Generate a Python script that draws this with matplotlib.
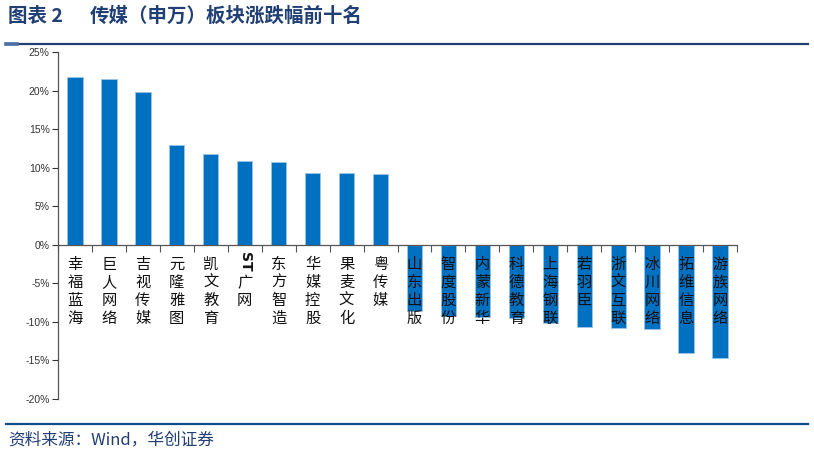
import numpy as np
import matplotlib.pyplot as plt
from matplotlib.lines import Line2D

plt.rcParams['font.family'] = ['Noto Sans CJK SC', 'DejaVu Sans']

# data (%)
names = ['幸福蓝海', '巨人网络', '吉视传媒', '元隆雅图', '凯文教育', 'ST广网', '东方智造',
         '华媒控股', '果麦文化', '粤传媒', '山东出版', '智度股份', '内蒙新华', '科德教育',
         '上海钢联', '若羽臣', '浙文互联', '冰川网络', '拓维信息', '游族网络']
changes = [21.75, 21.5, 19.8, 12.95, 11.8, 10.92, 10.79, 9.33, 9.28, 9.2,
           -8.55, -9.2, -9.37, -9.55, -10.1, -10.66, -10.84, -10.97, -14.03, -14.64]
yticks = [25, 20, 15, 10, 5, 0, -5, -10, -15, -20]

bar_color = '#0070C0'
navy = '#1F3F75'

fig = plt.figure(figsize=(8.14, 4.54), dpi=100)
ax = fig.add_axes([58 / 814, 1 - 399 / 454, (737 - 58) / 814, (399 - 52) / 454])

x = np.arange(len(names))
ax.bar(x, changes, width=0.45, color=bar_color, edgecolor='#9DC3E6', linewidth=0.6)

ax.set_xlim(-0.5, len(names) - 0.5)
ax.set_ylim(-20, 25)
ax.set_yticks(yticks)
ax.set_yticklabels([f'{v}%' for v in yticks], family='Liberation Sans', fontsize=7.5)
ax.tick_params(axis='y', direction='out', length=4, width=0.8, colors='#333333', pad=2)

for s in ['top', 'right']:
    ax.spines[s].set_visible(False)
ax.spines['bottom'].set_position(('data', 0))
for s in ['left', 'bottom']:
    ax.spines[s].set_color('#555555')
    ax.spines[s].set_linewidth(0.9)

# category boundaries as ticks, labels at the centres
ax.set_xticks(np.arange(-0.5, len(names)), minor=True)
ax.tick_params(axis='x', which='minor', direction='out', length=5, width=0.8, colors='#555555')
ax.set_xticks(x)
ax.tick_params(axis='x', which='major', length=0, pad=8)

# vertical (stacked) labels; "ST" is drawn rotated on its own
labels = ['' if n.startswith('ST') else '\n'.join(n) for n in names]
ax.set_xticklabels(labels, fontsize=11, linespacing=1.08, va='top', color='#111111')

for i, n in enumerate(names):
    if n.startswith('ST'):
        ax.annotate('ST', xy=(i, 0), xytext=(0, -12.5), textcoords='offset points',
                    ha='center', va='center', rotation=-90, fontsize=10,
                    fontweight='bold', family='DejaVu Sans', color='#111111')
        ax.annotate('\n'.join(n[2:]), xy=(i, 0), xytext=(0, -21), textcoords='offset points',
                    ha='center', va='top', fontsize=11, linespacing=1.08, color='#111111')

# title and source
fig.text(8 / 814, 1 - 16 / 454, '图表 2', fontsize=14,
         fontweight='bold', color=navy, va='center', ha='left')
fig.text(90 / 814, 1 - 16 / 454, '传媒（申万）板块涨跌幅前十名', fontsize=14,
         fontweight='bold', color=navy, va='center', ha='left')
fig.add_artist(Line2D([6 / 814, 808 / 814], [1 - 43.5 / 454] * 2, color=navy, lw=1.6))
fig.add_artist(Line2D([6 / 814, 17 / 814], [1 - 43.5 / 454] * 2, color='#4A6FA5', lw=2.6))
fig.add_artist(Line2D([6 / 814, 808 / 814], [1 - 423.5 / 454] * 2, color='#0F4C8A', lw=1.6))
fig.text(8 / 814, 1 - 440 / 454, '资料来源：Wind，华创证券', fontsize=12, style='italic',
         color=navy, va='center', ha='left')

fig.savefig('out.png', dpi=100)
